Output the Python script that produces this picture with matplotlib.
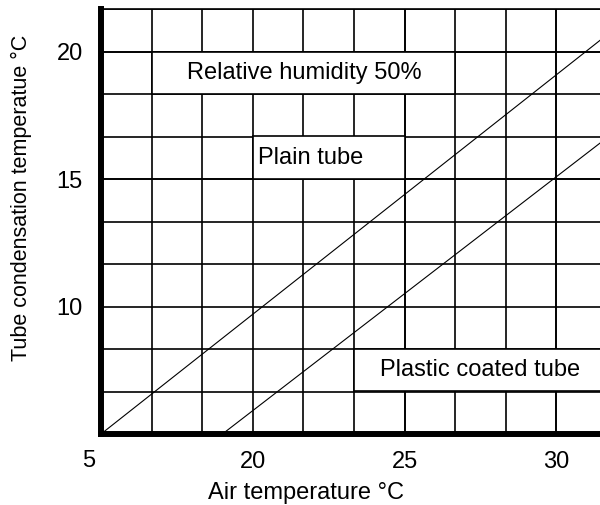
import matplotlib
matplotlib.use('Agg')
import matplotlib.pyplot as plt
from matplotlib.patches import Rectangle
import numpy as np

plt.rcParams['font.family'] = ['Liberation Sans', 'DejaVu Sans']

# values
air_ticks = [20, 25, 30]
cond_ticks = [10, 15, 20]
plain_x = [15, 31.45]
plain_y = [5, 20.45]
plastic_x = [19.0, 31.45]
plastic_y = [5, 16.42]

FS = 17
fig = plt.figure(figsize=(6, 5.05), dpi=100)
ax = fig.add_axes([101 / 600, 71 / 505, 506 / 600, 425 / 505])

ax.set_xlim(15, 31.667)
ax.set_ylim(5, 21.667)

# grid every 5/3 degrees
ax.set_xticks(air_ticks)
ax.set_yticks(cond_ticks)
ax.set_xticks(np.linspace(15, 31.667, 11), minor=True)
ax.set_yticks(np.linspace(5, 21.667, 11), minor=True)
ax.grid(True, which='both', color='black', linewidth=1.2)
ax.set_axisbelow(True)
ax.tick_params(which='both', length=0, labelsize=FS)
ax.tick_params(axis='x', pad=12)
ax.tick_params(axis='y', pad=13)

for side in ['left', 'bottom']:
    ax.spines[side].set_linewidth(4.3)
ax.spines['top'].set_linewidth(1.2)
ax.spines['right'].set_visible(False)

# label boxes covering grid cells
boxes = [(16.667, 18.333, 10.0), (20.0, 15.0, 5.0), (23.333, 6.667, 8.334)]
for bx, by, bw in boxes:
    ax.add_patch(Rectangle((bx, by), bw, 1.667, facecolor='white',
                           edgecolor='black', linewidth=1.2, zorder=1))

ax.plot(plain_x, plain_y, color='black', linewidth=0.8, zorder=2)
ax.plot(plastic_x, plastic_y, color='black', linewidth=0.8, zorder=2)

ax.text(21.7, 19.17, 'Relative humidity 50%', fontsize=FS, ha='center', va='center', zorder=3)
ax.text(20.17, 15.83, 'Plain tube', fontsize=FS, ha='left', va='center', zorder=3)
ax.text(27.5, 7.5, 'Plastic coated tube', fontsize=FS, ha='center', va='center', zorder=3)

ax.text(14.6, -0.064, '5', fontsize=FS, ha='center', va='center',
        transform=ax.get_xaxis_transform())

ax.set_xlabel('Air temperature °C', fontsize=FS)
ax.set_ylabel('Tube condensation temperatue °C', fontsize=15.5)
ax.xaxis.set_label_coords(0.405, -0.112)
ax.yaxis.set_label_coords(-0.137, 0.555)

fig.savefig('out.png', dpi=100)
